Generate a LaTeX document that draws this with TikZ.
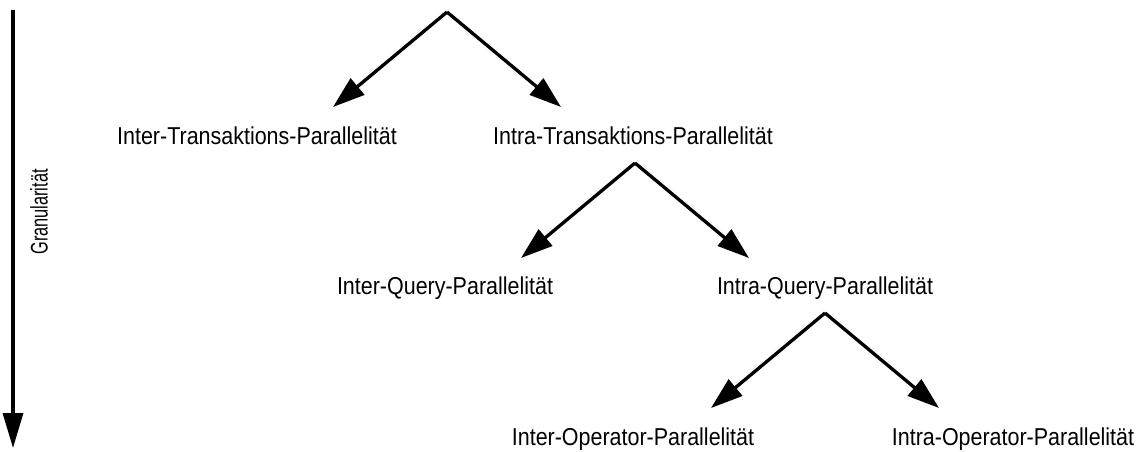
\documentclass[tikz,border=0pt]{standalone}
\usepackage{fontspec}
\setmainfont{Liberation Sans}[FakeStretch=0.88]
\newfontfamily\granfont{Liberation Sans}[FakeStretch=0.68]
\usetikzlibrary{arrows.meta}
\begin{document}
\begin{tikzpicture}[x=1pt,y=-1pt,
  lbl/.style={anchor=base,inner sep=0pt,font=\fontsize{24.4}{28}\selectfont},
  conn/.style={line width=3.3pt,-{Triangle[length=32pt,width=21pt]}},
  axis/.style={line width=3.3pt,-{Triangle[length=35pt,width=20pt]}}]
\useasboundingbox (0,0) rectangle (1143,452);
% apexes and tips
\coordinate (a1) at (447,12);
\coordinate (t1l) at (333,107);
\coordinate (t1r) at (561,107);
\coordinate (a2) at (635,163);
\coordinate (t2l) at (521,258);
\coordinate (t2r) at (749,258);
\coordinate (a3) at (825,313);
\coordinate (t3l) at (711,408);
\coordinate (t3r) at (939,408);
\coordinate (g0) at (13,10);
\coordinate (g1) at (13,448);
% labels
\node[lbl] (interT) at (257,144.5) {Inter-Transaktions-Parallelität};
\node[lbl] (intraT) at (633,144.5) {Intra-Transaktions-Parallelität};
\node[lbl] (interQ) at (445,294.5) {Inter-Query-Parallelität};
\node[lbl] (intraQ) at (825,294.5) {Intra-Query-Parallelität};
\node[lbl] (interO) at (633,445) {Inter-Operator-Parallelität};
\node[lbl] (intraO) at (1013,445) {Intra-Operator-Parallelität};
\node[inner sep=0pt,rotate=90,font=\granfont\fontsize{24}{28}\selectfont] (gran) at (39,212) {Granularität};
% connectors
\draw[conn] (a1) -- (t1l);
\draw[conn] (a1) -- (t1r);
\draw[conn] (a2) -- (t2l);
\draw[conn] (a2) -- (t2r);
\draw[conn] (a3) -- (t3l);
\draw[conn] (a3) -- (t3r);
\draw[axis] (g0) -- (g1);
\end{tikzpicture}
\end{document}
